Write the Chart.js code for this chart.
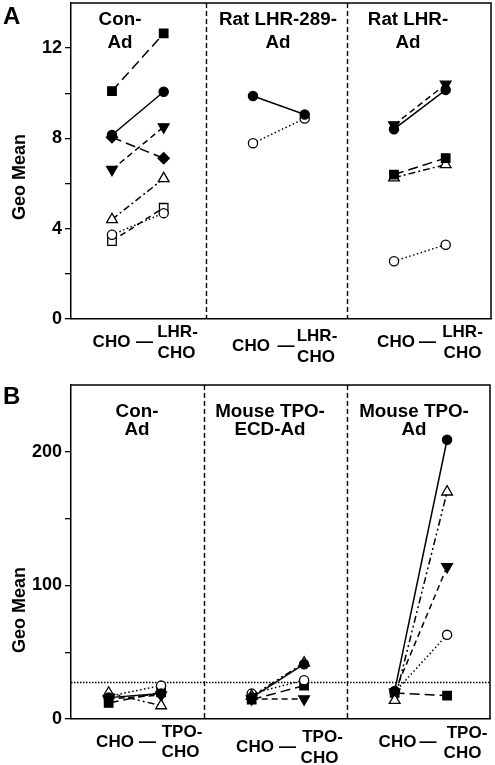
<!DOCTYPE html>
<html><head><meta charset="utf-8">
<script src="https://cdn.jsdelivr.net/npm/chart.js@4.4.1/dist/chart.umd.min.js"></script>
<style>
html,body{margin:0;padding:0;background:#fff;width:495px;height:765px;overflow:hidden;}
canvas{position:absolute;left:0;}
#chartA{top:0;}
#chartB{top:380px;}
</style>
</head><body>
<canvas id="chartA" width="495" height="380"></canvas>
<canvas id="chartB" width="495" height="385"></canvas>
<script>
// ================= DATA =================
const groupsA = [['Con-', 'Ad'], ['Rat LHR-289-', 'Ad'], ['Rat LHR-', 'Ad']];
const groupsB = [['Con-', 'Ad'], ['Mouse TPO-', 'ECD-Ad'], ['Mouse TPO-', 'Ad']];
const xLabelsA = ['CHO', ['LHR-', 'CHO']];
const xLabelsB = ['CHO', ['TPO-', 'CHO']];
const yTicksA = [0, 2, 4, 6, 8, 10, 12];
const yLabelsA = [0, 4, 8, 12];
const yTicksB = [0, 50, 100, 150, 200];
const yLabelsB = [0, 100, 200];
const thresholdB = 28;

// Panel A (values per group: Con-Ad, Rat LHR-289-Ad, Rat LHR-Ad; null = not present)
const aFilledSquareCHO  = [10.1, null, 6.40];
const aFilledSquareLHR  = [12.65, null, 7.13];
const aFilledCircleCHO  = [8.15, 9.88, 8.41];
const aFilledCircleLHR  = [10.07, 9.06, 10.15];
const aFilledDiamondCHO = [8.05, null, null];
const aFilledDiamondLHR = [7.12, null, null];
const aDownTriangleCHO  = [6.62, null, 8.60];
const aDownTriangleLHR  = [8.51, null, 10.40];
const aOpenTriangleCHO  = [4.41, null, 6.26];
const aOpenTriangleLHR  = [6.22, null, 6.84];
const aOpenCircleCHO    = [3.73, 7.79, 2.56];
const aOpenCircleLHR    = [4.69, 8.88, 3.29];
const aOpenSquareCHO    = [3.45, null, null];
const aOpenSquareLHR    = [4.93, null, null];

// Panel B (values per group: Con-Ad, Mouse TPO-ECD-Ad, Mouse TPO-Ad)
const bFilledCircleCHO  = [16, 16, 21];
const bFilledCircleTPO  = [19, 41, 209];
const bOpenTriangleCHO  = [19.5, 17, 14];
const bOpenTriangleTPO  = [10, 42, 170];
const bDownTriangleCHO  = [15, 15, 20];
const bDownTriangleTPO  = [18, 15, 114];
const bOpenCircleCHO    = [17, 19, 20];
const bOpenCircleTPO    = [25, 29, 63];
const bFilledSquareCHO  = [12, 14.5, 19.5];
const bFilledSquareTPO  = [20, 25, 17.5];

// ================= STYLES =================
const ST = {
  filledSquare:  {shape: 'rect', r: 6, open: false, dash: [10, 5]},
  filledCircle:  {shape: 'circle', r: 4.6, open: false, dash: []},
  filledDiamond: {shape: 'rectRot', r: 5.6, open: false, dash: [10, 5]},
  downTriangle:  {shape: 'triangle', rot: 180, r: 6.2, open: false, dash: [6, 4]},
  openTriangle:  {shape: 'triangle', r: 6.2, open: true, dash: [7, 3, 2, 3]},
  openTriangle2: {shape: 'triangle', r: 6.2, open: true, dash: [7, 3, 2, 3, 2, 3]},
  openCircle:    {shape: 'circle', r: 4.6, open: true, dash: [1.5, 2.5]},
  openSquare:    {shape: 'rect', r: 6, open: true, dash: [6, 4]}
};

const seriesA = [
  {cho: aFilledCircleCHO, tgt: aFilledCircleLHR, st: ST.filledCircle},
  {cho: aFilledSquareCHO, tgt: aFilledSquareLHR, st: ST.filledSquare},
  {cho: aDownTriangleCHO, tgt: aDownTriangleLHR, st: ST.downTriangle},
  {cho: aOpenTriangleCHO, tgt: aOpenTriangleLHR, st: ST.openTriangle},
  {cho: aOpenCircleCHO, tgt: aOpenCircleLHR, st: ST.openCircle},
  {cho: aOpenSquareCHO, tgt: aOpenSquareLHR, st: ST.openSquare},
  {cho: aFilledDiamondCHO, tgt: aFilledDiamondLHR, st: ST.filledDiamond}
];
const seriesB = [
  {cho: bFilledCircleCHO, tgt: bFilledCircleTPO, st: ST.filledCircle},
  {cho: bOpenTriangleCHO, tgt: bOpenTriangleTPO, st: ST.openTriangle2},
  {cho: bDownTriangleCHO, tgt: bDownTriangleTPO, st: ST.downTriangle},
  {cho: bOpenCircleCHO, tgt: bOpenCircleTPO, st: ST.openCircle},
  {cho: bFilledSquareCHO, tgt: bFilledSquareTPO, st: ST.filledSquare}
];

const FONT = '"Liberation Sans", Arial, Helvetica, sans-serif';
const PAIR_GAP = 1.1;

function buildDatasets(series) {
  const ds = [];
  series.forEach(s => {
    s.cho.forEach((v, p) => {
      const w = s.tgt[p];
      if (v == null || w == null) return;
      ds.push({
        data: [{x: 3 * p + 1, y: v}, {x: 3 * p + 1 + PAIR_GAP, y: w}],
        borderColor: '#000', borderWidth: 1.5, borderDash: s.st.dash,
        pointStyle: s.st.shape, rotation: s.st.rot || 0,
        pointRadius: s.st.r, pointHoverRadius: s.st.r,
        pointBackgroundColor: s.st.open ? '#fff' : '#000',
        pointBorderColor: '#000', pointBorderWidth: 1.3,
        showLine: true, tension: 0, fill: false
      });
    });
  });
  return ds;
}

// ================= LAYOUT (text positions, canvas coords) =================
const LAYOUT = {
  chartA: {
    letter: {t: 'A', x: 3, y: 24},
    ylab: {x: 20, y: 177},
    titles: groupsA, titleX: [120, 278, 408], titleY: [25, 48],
    xl: xLabelsA,
    xpos: [
      {c: [111.5, 347], d: 144.5, t: [177.5, 337], b: [176.5, 358]},
      {c: [251, 351], d: 286, t: [317, 341], b: [316, 362]},
      {c: [396, 347], d: 427.5, t: [462.5, 337], b: [462.5, 358]}
    ],
    threshold: null
  },
  chartB: {
    letter: {t: 'B', x: 3, y: 24},
    ylab: {x: 20, y: 230},
    titles: groupsB, titleX: [137, 270, 414], titleY: [37, 55],
    xl: xLabelsB,
    xpos: [
      {c: [115, 367], d: 147.5, t: [182, 357], b: [180.5, 377]},
      {c: [255, 372], d: 287.5, t: [322.5, 362], b: [319.5, 383]},
      {c: [397.5, 367], d: 428, t: [467, 358], b: [462.5, 378]}
    ],
    threshold: thresholdB
  }
};

const decor = {
  id: 'decor',
  beforeDatasetsDraw(chart) {
    const L = LAYOUT[chart.canvas.id];
    const {ctx, chartArea: ca, scales: {x, y}} = chart;
    ctx.save();
    ctx.strokeStyle = '#000';
    ctx.lineWidth = 1.4;
    ctx.setLineDash([5, 3]);
    [3, 6].forEach(v => {
      const px = Math.round(x.getPixelForValue(v)) + 0.5;
      ctx.beginPath(); ctx.moveTo(px, ca.top); ctx.lineTo(px, ca.bottom); ctx.stroke();
    });
    if (L.threshold != null) {
      ctx.setLineDash([1.5, 1.5]);
      ctx.lineWidth = 1.3;
      const py = Math.round(y.getPixelForValue(L.threshold)) + 0.5;
      ctx.beginPath(); ctx.moveTo(ca.left, py); ctx.lineTo(ca.right, py); ctx.stroke();
    }
    ctx.setLineDash([]);
    ctx.lineWidth = 1.5;
    ctx.beginPath();
    ctx.moveTo(ca.left, ca.top); ctx.lineTo(ca.right, ca.top); ctx.lineTo(ca.right, ca.bottom);
    ctx.stroke();
    ctx.restore();
  },
  afterDraw(chart) {
    const L = LAYOUT[chart.canvas.id];
    const ctx = chart.ctx;
    ctx.save();
    ctx.fillStyle = '#000';
    ctx.textBaseline = 'alphabetic';
    // panel letter
    ctx.font = 'bold 24px ' + FONT;
    ctx.textAlign = 'left';
    ctx.fillText(L.letter.t, L.letter.x, L.letter.y);
    // y title
    ctx.font = 'bold 18px ' + FONT;
    ctx.save();
    ctx.translate(L.ylab.x, L.ylab.y);
    ctx.rotate(-Math.PI / 2);
    ctx.textAlign = 'center';
    ctx.textBaseline = 'middle';
    ctx.fillText('Geo Mean', 0, 0);
    ctx.restore();
    // group titles
    ctx.font = 'bold 18.8px ' + FONT;
    ctx.textAlign = 'center';
    L.titles.forEach((lines, i) => {
      lines.forEach((t, j) => ctx.fillText(t, L.titleX[i], L.titleY[j]));
    });
    // x labels
    ctx.font = 'bold 17px ' + FONT;
    L.xpos.forEach(p => {
      ctx.textAlign = 'center';
      ctx.fillText(L.xl[0], p.c[0], p.c[1]);
      ctx.fillText(L.xl[1][0], p.t[0], p.t[1]);
      ctx.fillText(L.xl[1][1], p.b[0], p.b[1]);
      ctx.fillText('\u2014', p.d, p.c[1]);
    });
    ctx.restore();
  }
};

function makeChart(id, series, yMax, yTicks, yLabels, xMin, xMax, pad, xH) {
  return new Chart(document.getElementById(id), {
    type: 'line',
    data: {datasets: buildDatasets(series)},
    options: {
      responsive: false, animation: false, devicePixelRatio: 1,
      layout: {padding: pad, autoPadding: false},
      plugins: {legend: {display: false}, tooltip: {enabled: false}},
      events: [],
      scales: {
        x: {
          type: 'linear', min: xMin, max: xMax,
          ticks: {display: false},
          grid: {display: false},
          border: {display: true, color: '#000', width: 1.5},
          afterFit: sc => { sc.height = xH; sc.paddingLeft = 0; sc.paddingRight = 0; }
        },
        y: {
          type: 'linear', min: 0, max: yMax,
          afterBuildTicks: sc => { sc.ticks = yTicks.map(v => ({value: v})); },
          ticks: {
            autoSkip: false, color: '#000', padding: 3,
            font: {family: FONT, size: 18, weight: 'bold'},
            callback: v => yLabels.includes(v) ? String(v) : ''
          },
          grid: {drawOnChartArea: false, drawTicks: true, tickLength: 6, color: '#000', lineWidth: 1.3},
          border: {display: true, color: '#000', width: 1.5},
          afterFit: sc => { sc.width = 71; sc.paddingTop = 0; sc.paddingBottom = 0; }
        }
      }
    },
    plugins: [decor]
  });
}

makeChart('chartA', seriesA, 14, yTicksA, yLabelsA, 0.128, 9.064, {top: 3, right: 4, left: 0, bottom: 0}, 61);
makeChart('chartB', seriesB, 250, yTicksB, yLabelsB, 0.21, 9.0, {top: 5, right: 5, left: 0, bottom: 0}, 46);
</script>
</body></html>
